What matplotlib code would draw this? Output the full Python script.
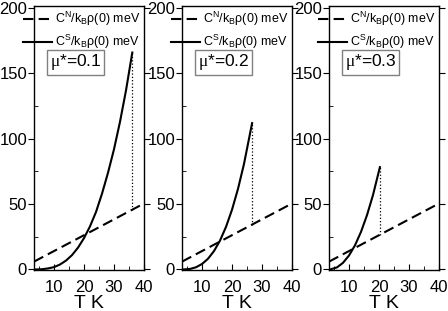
import matplotlib
matplotlib.use('Agg')
import matplotlib.pyplot as plt
from matplotlib.ticker import MultipleLocator

plt.rcParams['font.family'] = ['Liberation Sans', 'DejaVu Sans']
plt.rcParams['mathtext.fontset'] = 'custom'
plt.rcParams['mathtext.rm'] = 'Liberation Serif'
plt.rcParams['mathtext.sf'] = 'Liberation Sans'

# values
mu_labels = ['0.1', '0.2', '0.3']

t_normal = [3.33, 40]
c_normal = [6, 50.5]

t_s1 = [3.7, 6, 8, 10, 12, 14, 16, 18, 20, 22, 24, 26, 28, 30, 32, 34, 36.1]
c_s1 = [0, 0.2, 0.8, 1.8, 3.8, 6.8, 11, 16.7, 24, 33, 44, 58, 74, 92, 113, 137, 166]

t_s2 = [3.7, 6, 8, 10, 12, 14, 16, 18, 20, 22, 24, 26.7]
c_s2 = [0, 0.4, 1.7, 4.2, 8.2, 14.1, 22.1, 32.6, 45.7, 61.7, 80.8, 112]

t_s3 = [3.7, 6, 8, 10, 12, 14, 16, 18, 20.3]
c_s3 = [0, 1.6, 5.1, 10.7, 18.5, 28.8, 41.6, 57, 78.3]

t_super = [t_s1, t_s2, t_s3]
c_super = [c_s1, c_s2, c_s3]

lbl_n = r'C$^{\mathsf{N}}$/k$_{\mathsf{B}}$ρ(0) meV'
lbl_s = r'C$^{\mathsf{S}}$/k$_{\mathsf{B}}$ρ(0) meV'


def normal_at(t):
    # straight line through the two read points
    return c_normal[0] + (c_normal[1] - c_normal[0]) * (t - t_normal[0]) / (t_normal[1] - t_normal[0])


fig = plt.figure(figsize=(4.48, 3.11), dpi=100)
lefts = [34 / 448, 182 / 448, 329 / 448]

for i in range(3):
    ax = fig.add_axes([lefts[i], 41 / 311, 110 / 448, 264 / 311])
    ax.plot(t_normal, c_normal, color='black', lw=1.5, ls=(0, (5, 2.5)), label=lbl_n)
    ax.plot(t_super[i], c_super[i], color='black', lw=1.5, label=lbl_s)

    # dotted jump at Tc
    tc = t_super[i][-1]
    ax.plot([tc, tc], [normal_at(tc), c_super[i][-1]], color='black', lw=0.9, ls=':')

    ax.set_xlim(3.33, 40)
    ax.set_ylim(-0.4, 201.6)
    ax.xaxis.set_major_locator(MultipleLocator(10))
    ax.xaxis.set_minor_locator(MultipleLocator(5))
    ax.yaxis.set_major_locator(MultipleLocator(50))
    ax.yaxis.set_minor_locator(MultipleLocator(25))
    ax.set_xticks([10, 20, 30, 40])

    ax.tick_params(axis='x', which='both', direction='in', labelsize=12, pad=7)
    ax.tick_params(axis='x', which='major', length=4)
    ax.tick_params(axis='x', which='minor', length=3)
    ax.tick_params(axis='y', which='major', direction='out', length=4, labelsize=12, pad=1)
    ax.tick_params(axis='y', which='minor', direction='in', length=3)
    ax.tick_params(axis='y', which='major', right=True)
    for s in ax.spines.values():
        s.set_linewidth(1.0)

    ax.set_xlabel('T K', fontsize=14, labelpad=0.5)

    ax.legend(loc='upper right', bbox_to_anchor=(1.0, 1.0), fontsize=9, frameon=False,
              handlelength=2.3, handletextpad=0.25, labelspacing=0.4,
              borderaxespad=0.15, borderpad=0.15)

    ax.text(0.38, 0.786, r'$\mathrm{\mu}$*=' + mu_labels[i], transform=ax.transAxes,
            fontsize=12.5, ha='center', va='center',
            bbox=dict(boxstyle='square,pad=0.15', fc='white', ec='#808080', lw=1.0))

fig.savefig('out.png', dpi=100)
